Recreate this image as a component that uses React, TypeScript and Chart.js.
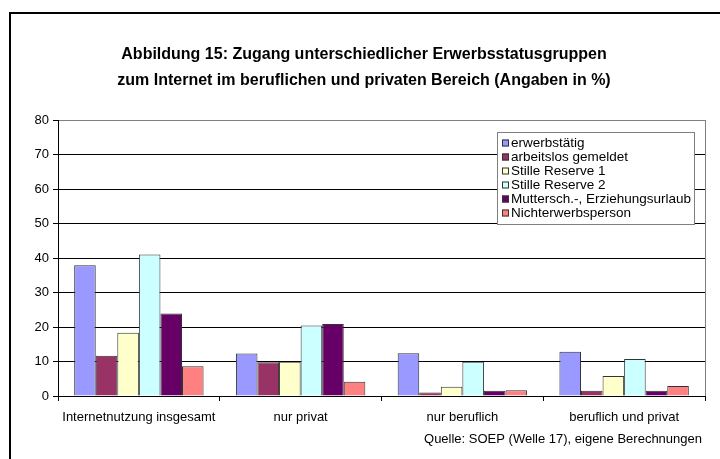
import React, { useEffect, useRef } from "react";
import { Chart, registerables } from "chart.js";

Chart.register(...registerables);

const categories = ["Internetnutzung insgesamt", "nur privat", "nur beruflich", "beruflich und privat"];
const seriesNames = [
  "erwerbstätig",
  "arbeitslos gemeldet",
  "Stille Reserve 1",
  "Stille Reserve 2",
  "Muttersch.-, Erziehungsurlaub",
  "Nichterwerbsperson",
];
const erwerbstaetig = [37.9, 12.3, 12.4, 12.8];
const arbeitslos = [11.7, 9.8, 1.0, 1.5];
const stilleReserve1 = [18.3, 9.9, 2.7, 5.8];
const stilleReserve2 = [41.0, 20.4, 9.9, 10.7];
const mutterschaft = [23.9, 20.9, 1.5, 1.5];
const nichterwerb = [8.6, 4.1, 1.7, 2.9];
const seriesColors = ["#9999FF", "#993366", "#FFFFCC", "#CCFFFF", "#660066", "#FF8080"];
const yTicks = [0, 10, 20, 30, 40, 50, 60, 70, 80];
const titleLines = [
  "Abbildung 15: Zugang unterschiedlicher Erwerbsstatusgruppen",
  "zum Internet im beruflichen und privaten Bereich (Angaben in %)",
];
const sourceText = "Quelle: SOEP (Welle 17), eigene Berechnungen";

const FONT = "'Liberation Sans', Arial, sans-serif";

const decorPlugin = {
  id: "decor",
  afterDraw(chart: any) {
    const ctx = chart.ctx;
    const area = chart.chartArea;
    ctx.save();
    // outer frame
    ctx.strokeStyle = "#000";
    ctx.lineWidth = 2;
    ctx.strokeRect(10, 13, 900, 900);
    // plot right border
    ctx.strokeStyle = "#808080";
    ctx.lineWidth = 1;
    ctx.beginPath();
    ctx.moveTo(Math.round(area.right) + 0.5, area.top);
    ctx.lineTo(Math.round(area.right) + 0.5, area.bottom);
    ctx.stroke();
    // title
    ctx.fillStyle = "#000";
    ctx.font = `bold 16px ${FONT}`;
    ctx.textAlign = "center";
    ctx.textBaseline = "middle";
    ctx.fillText(titleLines[0], 364, 55);
    ctx.fillText(titleLines[1], 364, 81);
    // source
    ctx.font = `13px ${FONT}`;
    ctx.textAlign = "right";
    ctx.fillText(sourceText, 702, 439);
    // legend
    const lx = 497, ly = 132, lw = 197, lh = 92;
    ctx.fillStyle = "#fff";
    ctx.fillRect(lx, ly, lw, lh);
    ctx.strokeStyle = "#808080";
    ctx.strokeRect(lx + 0.5, ly + 0.5, lw, lh);
    ctx.font = `13.5px ${FONT}`;
    ctx.textAlign = "left";
    chart.data.datasets.forEach((ds: any, i: number) => {
      const cy = 143 + i * 14;
      ctx.fillStyle = ds.backgroundColor;
      ctx.fillRect(502, cy - 3.5, 7, 7);
      ctx.strokeStyle = "#333";
      ctx.strokeRect(502.5, cy - 3, 6, 6);
      ctx.fillStyle = "#000";
      ctx.fillText(ds.label, 511, cy);
    });
    ctx.restore();
  },
};

export default function App() {
  const ref = useRef<HTMLCanvasElement>(null);
  useEffect(() => {
    const data = [erwerbstaetig, arbeitslos, stilleReserve1, stilleReserve2, mutterschaft, nichterwerb];
    const chart = new Chart(ref.current!, {
      type: "bar",
      data: {
        labels: categories,
        datasets: seriesNames.map((name, i) => ({
          label: name,
          data: data[i],
          backgroundColor: seriesColors[i],
          borderColor: "#333",
          borderWidth: 1,
          barPercentage: 1,
          categoryPercentage: 0.8,
        })),
      },
      options: {
        responsive: false,
        animation: false,
        layout: { padding: { left: 0, right: 15, top: 120, bottom: 0 } },
        plugins: { legend: { display: false }, title: { display: false }, tooltip: { enabled: false } },
        scales: {
          x: {
            grid: { display: true, drawOnChartArea: false, drawTicks: true, tickLength: 5, color: "#000", offset: true },
            border: { color: "#000" },
            ticks: { color: "#000", font: { family: FONT, size: 13 }, padding: 9, maxRotation: 0 },
            afterFit: (s: any) => { s.height = 63; },
          },
          y: {
            min: 0,
            max: 80,
            afterBuildTicks: (s: any) => { s.ticks = yTicks.map((v) => ({ value: v })); },
            grid: {
              color: (c: any) => (c.tick && c.tick.value === 80 ? "#808080" : "#000"),
              tickLength: 5,
              tickColor: "#000",
            },
            border: { color: "#000" },
            ticks: { color: "#000", font: { family: FONT, size: 13 }, padding: 4 },
            afterFit: (s: any) => { s.width = 58; },
          },
        },
      },
      plugins: [decorPlugin],
    });
    return () => chart.destroy();
  }, []);
  return (
    <div style={{ position: "fixed", left: 0, top: 0, width: 720, height: 459, background: "#fff" }}>
      <canvas ref={ref} width={720} height={459} />
    </div>
  );
}
